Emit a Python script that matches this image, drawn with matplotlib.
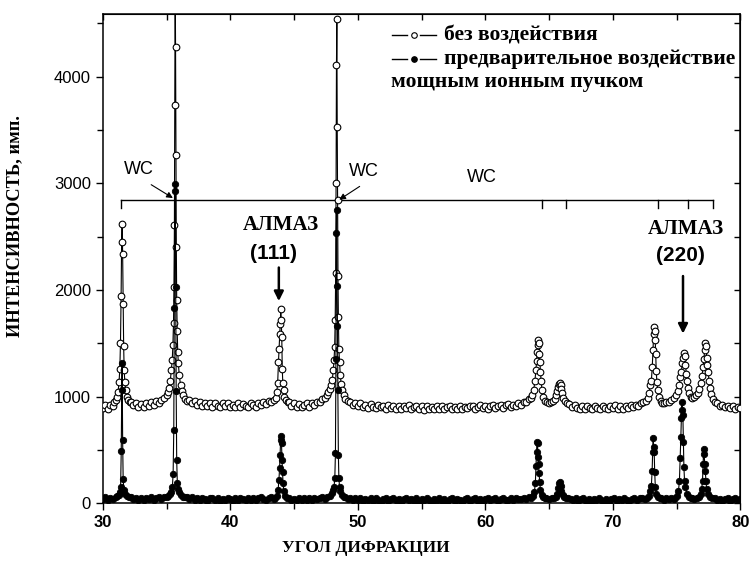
import numpy as np
import matplotlib
matplotlib.use("Agg")
import matplotlib.pyplot as plt
from matplotlib.ticker import MultipleLocator

STEP = 0.2

# ---------------- Series 1: без воздействия (open circles) ----------------
UP_FLATS = [
    (30.0, [895, 920, 885, 925, 910]),
    (32.2, [950, 920, 935, 905, 930, 900, 935, 915, 945, 920, 955, 940, 970]),
    (36.8, [965, 935, 955, 925, 945, 915, 940, 910, 935, 905,
            940, 915, 900, 935, 910, 940, 905, 925, 900, 935,
            905, 930, 915, 900, 935, 920, 905, 935, 920, 945,
            930, 955, 945]),
    (44.6, [945, 915, 935, 905, 930, 900, 925, 935, 905, 940, 920, 950, 945, 975, 985]),
    (49.4, [950, 925, 940, 915, 935, 905, 925, 895, 930, 905,
            890, 920, 900, 915, 885, 920, 895, 910, 880, 915,
            885, 910, 890, 920, 880, 905, 915, 885, 910, 875,
            915, 885, 905, 880, 910, 885, 915, 880, 900, 910,
            880, 905, 885, 915, 880, 905, 890, 910, 915, 880,
            905, 920, 890, 915, 885, 910, 920, 890, 915, 925,
            895, 920, 930, 900, 925, 910, 935, 920, 945, 950,
            975]),
    (66.6, [930, 900, 920, 895, 880, 915, 885, 910, 890, 880,
            915, 890, 880, 910, 895, 880, 915, 890, 920, 885,
            910, 880, 915, 895, 920, 900, 925, 915, 940, 945]),
    (78.2, [940, 915, 925, 900, 915, 890, 910, 885, 905, 895]),
]

UP_P31_X = [30.9, 31.0, 31.1, 31.2, 31.28, 31.34, 31.39, 31.44, 31.48, 31.52, 31.56,
            31.60, 31.64, 31.68, 31.73, 31.80, 31.90, 32.0, 32.1]
UP_P31_Y = [945, 965, 1000, 1040, 1140, 1260, 1500, 1940, 2450, 2620, 2335,
            1865, 1470, 1250, 1140, 1060, 1000, 970, 950]
UP_P35_X = [34.8, 35.0, 35.1, 35.2, 35.3, 35.38, 35.45, 35.5, 35.55, 35.59, 35.62, 35.65,
            35.68, 35.71, 35.74, 35.77, 35.80, 35.84, 35.88, 35.93, 36.0, 36.1, 36.2,
            36.3, 36.45, 36.6]
UP_P35_Y = [985, 1010, 1040, 1080, 1150, 1250, 1340, 1480, 1690, 2025, 2610, 3730,
            4950, 4280, 3270, 2406, 1905, 1613, 1420, 1310, 1200, 1110, 1050,
            1010, 980, 960]
UP_P44_X = [43.4, 43.55, 43.65, 43.72, 43.78, 43.83, 43.88, 43.92, 43.96, 44.0, 44.04,
            44.08, 44.12, 44.18, 44.25, 44.35, 44.5]
UP_P44_Y = [965, 990, 1040, 1130, 1320, 1450, 1590, 1680, 1820, 1720, 1560,
            1260, 1130, 1060, 1000, 965, 945]
UP_P48_X = [47.55, 47.7, 47.8, 47.9, 48.0, 48.08, 48.14, 48.19, 48.23, 48.27, 48.30,
            48.33, 48.36, 48.39, 48.42, 48.45, 48.48, 48.52, 48.57, 48.63, 48.7, 48.8,
            48.9, 49.0, 49.2]
UP_P48_Y = [1010, 1040, 1070, 1110, 1152, 1250, 1340, 1466, 1717, 2160, 3003,
            4106, 4539, 3526, 2846, 2130, 1745, 1444, 1325, 1200, 1120, 1060,
            1010, 980, 955]
UP_P64_X = [63.55, 63.7, 63.8, 63.9, 63.97, 64.03, 64.08, 64.13, 64.17, 64.21, 64.25,
            64.29, 64.33, 64.38, 64.45, 64.55, 64.7, 64.85, 65.0, 65.15]
UP_P64_Y = [990, 1010, 1060, 1150, 1250, 1330, 1420, 1480, 1530, 1500, 1400,
            1320, 1230, 1150, 1060, 1000, 960, 945, 935, 945]
UP_P66_X = [65.3, 65.45, 65.55, 65.65, 65.73, 65.8, 65.86, 65.92, 65.98, 66.05, 66.13,
            66.25, 66.4]
UP_P66_Y = [955, 975, 1010, 1050, 1090, 1120, 1130, 1110, 1070, 1030, 990, 955, 935]
UP_P73_X = [72.6, 72.75, 72.85, 72.95, 73.03, 73.1, 73.16, 73.21, 73.25, 73.29, 73.33,
            73.37, 73.41, 73.46, 73.53, 73.62, 73.75, 73.9, 74.05, 74.2]
UP_P73_Y = [960, 985, 1030, 1110, 1150, 1280, 1440, 1590, 1650, 1610, 1530,
            1400, 1240, 1140, 1060, 1000, 960, 940, 935, 945]
UP_P75_X = [74.4, 74.6, 74.8, 74.95, 75.1, 75.2, 75.3, 75.38, 75.45, 75.52, 75.58,
            75.64, 75.7, 75.76, 75.82, 75.9, 76.0, 76.1, 76.22, 76.35]
UP_P75_Y = [950, 965, 985, 1010, 1050, 1110, 1180, 1230, 1310, 1360, 1410,
            1380, 1300, 1210, 1150, 1080, 1030, 1000, 990, 1000]
UP_P77_X = [76.5, 76.65, 76.8, 76.92, 77.0, 77.08, 77.15, 77.21, 77.27, 77.32, 77.37,
            77.42, 77.48, 77.55, 77.63, 77.73, 77.85, 78.0]
UP_P77_Y = [1010, 1030, 1070, 1130, 1190, 1280, 1350, 1440, 1500, 1470, 1360,
            1300, 1230, 1150, 1080, 1020, 980, 950]

# ------- Series 2: предварительное воздействие мощным ионным пучком (filled) -------
LO_FLATS = [
    (30.0, [35, 55, 30, 50, 40]),
    (32.2, [55, 35, 50, 30, 45, 25, 50, 35, 55, 30, 45, 55, 40]),
    (36.6, [60, 40, 55, 30, 50, 25, 45, 35, 20, 45,
            50, 25, 45, 20, 40, 30, 50, 35, 20, 45,
            30, 50, 35, 25, 45, 30, 50, 25, 45, 55,
            35, 30, 50, 55, 40]),
    (44.6, [50, 30, 40, 25, 45, 30, 50, 25, 45, 30, 50, 35, 45, 55, 40]),
    (49.0, [60, 40, 50, 30, 45, 25, 45, 20, 40, 30,
            50, 20, 45, 30, 15, 40, 45, 20, 35, 45,
            25, 40, 15, 35, 45, 25, 40, 20, 45, 15,
            40, 25, 45, 30, 15, 40, 25, 45, 20, 35,
            15, 40, 45, 20, 35, 25, 15, 40, 45, 20,
            35, 45, 20, 40, 15, 35, 45, 25, 40, 45,
            20, 35, 45, 30, 25, 45, 30, 50, 35, 40,
            45, 40, 55]),
    (64.8, [50, 35, 45]),
    (66.5, [50, 35, 25, 45, 20, 40, 45, 20, 35, 15,
            40, 25, 45, 30, 20, 40, 15, 35, 45, 20,
            40, 25, 45, 30, 20, 35, 45, 30, 45, 50,
            40]),
    (73.8, [45, 30, 45, 35, 50, 40]),
    (76.2, [50, 35]),
    (78.0, [45, 25, 40, 20, 35, 45, 20, 35, 45, 25, 40]),
]

LO_P31_X = [31.0, 31.15, 31.25, 31.33, 31.4, 31.45, 31.49, 31.52, 31.56, 31.6, 31.66,
            31.75, 31.9, 32.05]
LO_P31_Y = [55, 65, 80, 100, 155, 487, 1058, 1319, 588, 228, 120, 85, 65, 55]
LO_P35_X = [34.8, 35.0, 35.15, 35.28, 35.38, 35.46, 35.52, 35.57, 35.61, 35.65, 35.68,
            35.72, 35.76, 35.8, 35.85, 35.92, 36.0, 36.15, 36.3, 36.45]
LO_P35_Y = [55, 60, 70, 85, 100, 149, 277, 682, 1827, 2924, 2996,
            2025, 1052, 400, 186, 130, 100, 75, 60, 55]
LO_P44_X = [43.5, 43.65, 43.75, 43.82, 43.87, 43.91, 43.95, 43.98, 44.02, 44.06, 44.1,
            44.14, 44.2, 44.3, 44.45]
LO_P44_Y = [50, 70, 120, 220, 330, 450, 590, 625, 560, 400, 290, 190, 110, 70, 50]
LO_P48_X = [47.6, 47.8, 47.95, 48.05, 48.14, 48.2, 48.25, 48.29, 48.32, 48.35, 48.38,
            48.41, 48.44, 48.48, 48.52, 48.57, 48.63, 48.75, 48.9]
LO_P48_Y = [55, 70, 95, 120, 155, 233, 468, 1356, 2538, 2745, 2037,
            1660, 1065, 456, 233, 155, 110, 80, 60]
LO_P64_X = [63.6, 63.75, 63.85, 63.93, 63.98, 64.02, 64.06, 64.1, 64.14, 64.18, 64.22,
            64.27, 64.33, 64.42, 64.55, 64.7]
LO_P64_Y = [45, 65, 100, 190, 350, 480, 572, 560, 430, 370, 280, 200, 120, 75, 55, 45]
LO_P66_X = [65.4, 65.55, 65.65, 65.73, 65.8, 65.86, 65.92, 65.98, 66.06, 66.2, 66.35]
LO_P66_Y = [45, 60, 90, 140, 190, 195, 160, 110, 75, 55, 45]
LO_P73_X = [72.7, 72.85, 72.95, 73.03, 73.09, 73.13, 73.17, 73.21, 73.25, 73.29, 73.34,
            73.42, 73.55, 73.7]
LO_P73_Y = [50, 70, 110, 165, 306, 480, 610, 525, 478, 290, 150, 90, 60, 45]
LO_P75_X = [74.9, 75.05, 75.15, 75.23, 75.29, 75.34, 75.38, 75.42, 75.46, 75.5, 75.54,
            75.58, 75.63, 75.7, 75.8, 75.95, 76.1]
LO_P75_Y = [50, 70, 110, 210, 420, 620, 800, 950, 870, 823, 570, 340, 210, 150, 90, 60, 50]
LO_P77_X = [76.6, 76.8, 76.9, 76.98, 77.04, 77.09, 77.13, 77.17, 77.21, 77.25, 77.3,
            77.36, 77.45, 77.6, 77.8]
LO_P77_Y = [45, 60, 90, 135, 210, 370, 510, 460, 370, 305, 210, 135, 85, 55, 45]

# WC reference bar (angles of the marked WC lines) and its level
WC_BAR_X = [31.44, 77.9]
WC_TICK_X = [31.44, 64.45, 66.36, 73.57, 75.87, 77.9]
WC_BAR_Y = 2839

LEGEND_1 = "без воздействия"
LEGEND_2 = "предварительное воздействие"
LEGEND_3 = "мощным ионным пучком"
XLABEL = "УГОЛ ДИФРАКЦИИ"
YLABEL = "ИНТЕНСИВНОСТЬ, имп."


def build(flats, peaks):
    xs, ys = [], []
    for start, vals in flats:
        for i, v in enumerate(vals):
            xs.append(round(start + i * STEP, 3))
            ys.append(v)
    for px, py in peaks:
        xs.extend(px)
        ys.extend(py)
    xs = np.array(xs, float)
    ys = np.array(ys, float)
    o = np.argsort(xs, kind="stable")
    return xs[o], ys[o]


up_x, up_y = build(UP_FLATS, [(UP_P31_X, UP_P31_Y), (UP_P35_X, UP_P35_Y), (UP_P44_X, UP_P44_Y),
                              (UP_P48_X, UP_P48_Y), (UP_P64_X, UP_P64_Y), (UP_P66_X, UP_P66_Y),
                              (UP_P73_X, UP_P73_Y), (UP_P75_X, UP_P75_Y), (UP_P77_X, UP_P77_Y)])
lo_x, lo_y = build(LO_FLATS, [(LO_P31_X, LO_P31_Y), (LO_P35_X, LO_P35_Y), (LO_P44_X, LO_P44_Y),
                              (LO_P48_X, LO_P48_Y), (LO_P64_X, LO_P64_Y), (LO_P66_X, LO_P66_Y),
                              (LO_P73_X, LO_P73_Y), (LO_P75_X, LO_P75_Y), (LO_P77_X, LO_P77_Y)])

SERIF = "Liberation Serif"
SANS = "Liberation Sans"

fig = plt.figure(figsize=(7.5, 5.75), dpi=100)
ax = fig.add_axes([0.137, 0.125, 0.850, 0.851])

ax.plot(up_x, up_y, "-", color="black", lw=0.8, marker="o", ms=4.8,
        mfc="white", mec="black", mew=0.8, zorder=3)
ax.plot(lo_x, lo_y, "-", color="black", lw=0.8, marker="o", ms=4.6,
        mfc="black", mec="black", mew=0.6, zorder=4)

ax.set_xlim(30, 80)
ax.set_ylim(0, 4590)
ax.xaxis.set_major_locator(MultipleLocator(10))
ax.xaxis.set_minor_locator(MultipleLocator(5))
ax.yaxis.set_major_locator(MultipleLocator(1000))
ax.yaxis.set_minor_locator(MultipleLocator(500))
ax.tick_params(axis="both", which="major", direction="out", length=5, width=1.0)
ax.tick_params(axis="both", which="minor", direction="out", length=4, width=1.0)
for s in ax.spines.values():
    s.set_linewidth(1.1)

for lab in ax.get_yticklabels():
    lab.set_fontfamily(SANS)
    lab.set_fontsize(12)
for lab in ax.get_xticklabels():
    lab.set_fontfamily(SANS)
    lab.set_fontsize(12)
    lab.set_fontweight("bold")

# top / right inward ticks
sx = ax.secondary_xaxis("top")
sx.xaxis.set_major_locator(MultipleLocator(10))
sx.xaxis.set_minor_locator(MultipleLocator(5))
sx.tick_params(which="both", direction="in", length=4, width=1.0, labeltop=False)
sy = ax.secondary_yaxis("right")
sy.yaxis.set_major_locator(MultipleLocator(1000))
sy.yaxis.set_minor_locator(MultipleLocator(500))
sy.tick_params(which="both", direction="in", length=4, width=1.0, labelright=False)

# WC bar
ax.plot(WC_BAR_X, [WC_BAR_Y, WC_BAR_Y], color="black", lw=1.0, zorder=2)
for xt in WC_TICK_X:
    ax.plot([xt, xt], [WC_BAR_Y, WC_BAR_Y - 70], color="black", lw=1.0, zorder=2)

ax.text(32.8, 3128, "WC", fontfamily=SANS, fontsize=13, ha="center", va="center")
ax.text(50.5, 3112, "WC", fontfamily=SANS, fontsize=13, ha="center", va="center")
ax.text(59.7, 3050, "WC", fontfamily=SANS, fontsize=13, ha="center", va="center")
thin = dict(arrowstyle="-|>", color="black", lw=0.8, mutation_scale=9, shrinkA=0, shrinkB=0)
ax.annotate("", xy=(35.5, 2862), xytext=(33.8, 2987), arrowprops=thin, zorder=6)
ax.annotate("", xy=(48.55, 2846), xytext=(50.15, 2971), arrowprops=thin, zorder=6)

# diamond labels
ax.text(44.0, 2610, "АЛМАЗ", fontfamily=SERIF, fontsize=15, fontweight="bold",
        ha="center", va="center")
ax.text(43.4, 2340, "(111)", fontfamily=SANS, fontsize=15, fontweight="bold",
        ha="center", va="center")
thick = dict(arrowstyle="-|>", color="black", lw=1.8, mutation_scale=14, shrinkA=0, shrinkB=0)
ax.annotate("", xy=(43.81, 1895), xytext=(43.81, 2210), arrowprops=thick)
ax.text(75.7, 2570, "АЛМАЗ", fontfamily=SERIF, fontsize=15, fontweight="bold",
        ha="center", va="center")
ax.text(75.3, 2319, "(220)", fontfamily=SANS, fontsize=15, fontweight="bold",
        ha="center", va="center")
ax.annotate("", xy=(75.51, 1590), xytext=(75.51, 2130), arrowprops=thick)

# legend (drawn manually)
leg_y = [4389, 4169]
for yy, face in zip(leg_y, ["white", "black"]):
    ax.plot([52.72, 53.85], [yy, yy], color="black", lw=1.0)
    ax.plot([54.9, 56.15], [yy, yy], color="black", lw=1.0)
    ax.plot([54.38], [yy], marker="o", ms=4.0, mfc=face, mec="black", mew=0.8)
ax.text(56.8, 4389, LEGEND_1, fontfamily=SERIF, fontsize=15.6, fontweight="bold",
        ha="left", va="center")
ax.text(56.8, 4169, LEGEND_2, fontfamily=SERIF, fontsize=15.6, fontweight="bold",
        ha="left", va="center")
ax.text(52.6, 3949, LEGEND_3, fontfamily=SERIF, fontsize=15.6, fontweight="bold",
        ha="left", va="center")

fig.text(366 / 750, 1 - 548 / 575, XLABEL, fontfamily=SERIF, fontsize=12.5,
         fontweight="bold", ha="center", va="center")
fig.text(15 / 750, 1 - 226 / 575, YLABEL, fontfamily=SERIF, fontsize=13.2,
         fontweight="bold", ha="center", va="center", rotation=90)

fig.savefig("out.png", dpi=100)
